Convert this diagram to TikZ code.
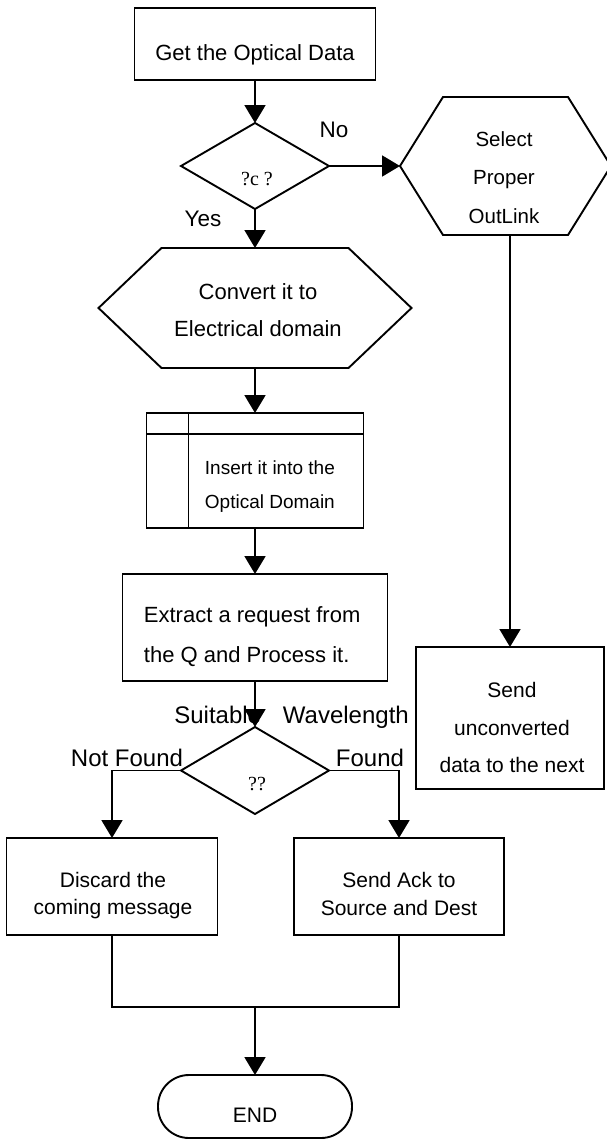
\documentclass[tikz,border=0pt]{standalone}
\usepackage{fontspec}
\setmainfont{Liberation Sans}
\newfontfamily\qfont{Liberation Serif}
\usetikzlibrary{arrows.meta,shapes.geometric,calc}
\newcommand\fmain{\fontsize{22}{26}\selectfont}
\newcommand\fmid{\fontsize{21}{25}\selectfont}
\newcommand\fhex{\fontsize{20.5}{25}\selectfont}
\newcommand\fsm{\fontsize{19}{23}\selectfont}
\newcommand\flab{\fontsize{24}{28}\selectfont}
\newcommand\fyn{\fontsize{22.5}{27}\selectfont}
\newcommand\fq{\qfont\fontsize{20}{24}\selectfont}
\begin{document}
\begin{tikzpicture}[x=1pt,y=-1pt,
  line width=1.9pt, line join=miter,
  arr/.style={-{Triangle[length=18pt,width=21pt]}},
  box/.style={draw, rectangle, inner sep=0pt, outer sep=0pt},
  shapebox/.style={rectangle, inner sep=0pt, outer sep=0pt},
  dia/.style={draw, diamond, inner sep=0pt, outer sep=0pt},
  txt/.style={anchor=base, inner sep=0pt},
  txtl/.style={anchor=base west, inner sep=0pt},
  txtr/.style={anchor=base east, inner sep=0pt}]
\useasboundingbox (0,0) rectangle (606,1140);

% shapes
\node[box, minimum width=241pt, minimum height=72pt] (get) at (255,44) {};
\node[dia, minimum width=148pt, minimum height=86pt] (d1) at (255,166) {};
\node[shapebox, minimum width=211pt, minimum height=138pt] (sel) at (505.5,166) {};
\draw (sel.west) -- ($(sel.north west)+(43,0)$) -- ($(sel.north east)+(-43,0)$) -- (sel.east)
      -- ($(sel.south east)+(-43,0)$) -- ($(sel.south west)+(43,0)$) -- cycle;
\node[shapebox, minimum width=313pt, minimum height=120pt] (conv) at (255,308) {};
\draw (conv.west) -- ($(conv.north west)+(63,0)$) -- ($(conv.north east)+(-63,0)$) -- (conv.east)
      -- ($(conv.south east)+(-63,0)$) -- ($(conv.south west)+(63,0)$) -- cycle;
\node[box, minimum width=217pt, minimum height=115pt] (ins) at (255,470.5) {};
\draw ($(ins.north west)+(0,21)$) -- ($(ins.north east)+(0,21)$);
\draw ($(ins.north west)+(42,0)$) -- ($(ins.south west)+(42,0)$);
\node[box, minimum width=265pt, minimum height=107pt] (ext) at (255,627.5) {};
\node[dia, minimum width=148pt, minimum height=87pt] (d2) at (255,770.5) {};
\node[box, minimum width=211pt, minimum height=97pt] (disc) at (112,886.5) {};
\node[box, minimum width=210pt, minimum height=97pt] (ack) at (399,886.5) {};
\node[box, minimum width=188pt, minimum height=142pt] (send) at (510,718) {};
\node[box, rounded corners=31pt, minimum width=194pt, minimum height=63pt] (end) at (255,1106.5) {};

% connectors
\draw[arr] (get.south) -- (d1.north);
\draw[arr] (d1.east) -- (sel.west);
\draw[arr] (d1.south) -- (conv.north);
\draw[arr] (sel.south -| send.north) -- (send.north);
\draw[arr] (conv.south) -- (ins.north);
\draw[arr] (ins.south) -- (ext.north);
\draw[arr] (ext.south) -- (d2.north);
\draw[arr] (d2.west) -| (disc.north);
\draw[arr] (d2.east) -| (ack.north);
\coordinate (j) at (255,1007);
\draw (disc.south) |- (j) -| (ack.south);
\draw[arr] (j) -- (end.north);

% texts
\node[txt] (t1) at (255,61) {\fmain Get the Optical Data};
\node[txt] (q1) at (257,185) {\fq ?c ?};
\node[txt] (lno) at (334,137) {\fyn No};
\node[txt] (lyes) at (203,226) {\fyn Yes};
\node[txt] (s1) at (504,146) {\fhex Select};
\node[txt] (s2) at (504,184) {\fhex Proper};
\node[txt] (s3) at (504,223) {\fhex OutLink};
\node[txt] (c1) at (258,299) {\fmain Convert it to};
\node[txt] (c2) at (258,336) {\fmain Electrical domain};
\node[txtl] (i1) at (204,474) {\fsm Insert it into the};
\node[txtl] (i2) at (204,508) {\fsm Optical Domain};
\node[txtl] (e1) at (143,622) {\fmain Extract a request from};
\node[txtl] (e2) at (143,662) {\fmain the Q and Process it.};
\node[txtr] (lsuit) at (262,723) {\flab Suitable};
\node[txtl] (lwave) at (282,723) {\flab Wavelength};
\node[txtl] (lnf) at (70,766) {\flab Not Found};
\node[txtl] (lf) at (335,766) {\flab Found};
\node[txt] (q2) at (257,790) {\fq ??};
\node[txt] (u1) at (512,697) {\fmid Send};
\node[txt] (u2) at (512,735) {\fmid unconverted};
\node[txt] (u3) at (512,772) {\fmid data to the next};
\node[txt] (dc1) at (113,887) {\fmid Discard the};
\node[txt] (dc2) at (113,914) {\fmid coming message};
\node[txt] (a1) at (399,887) {\fmid Send Ack to};
\node[txt] (a2) at (399,915) {\fmid Source and Dest};
\node[txt] (tend) at (255,1122) {\fmid END};
\end{tikzpicture}
\end{document}
